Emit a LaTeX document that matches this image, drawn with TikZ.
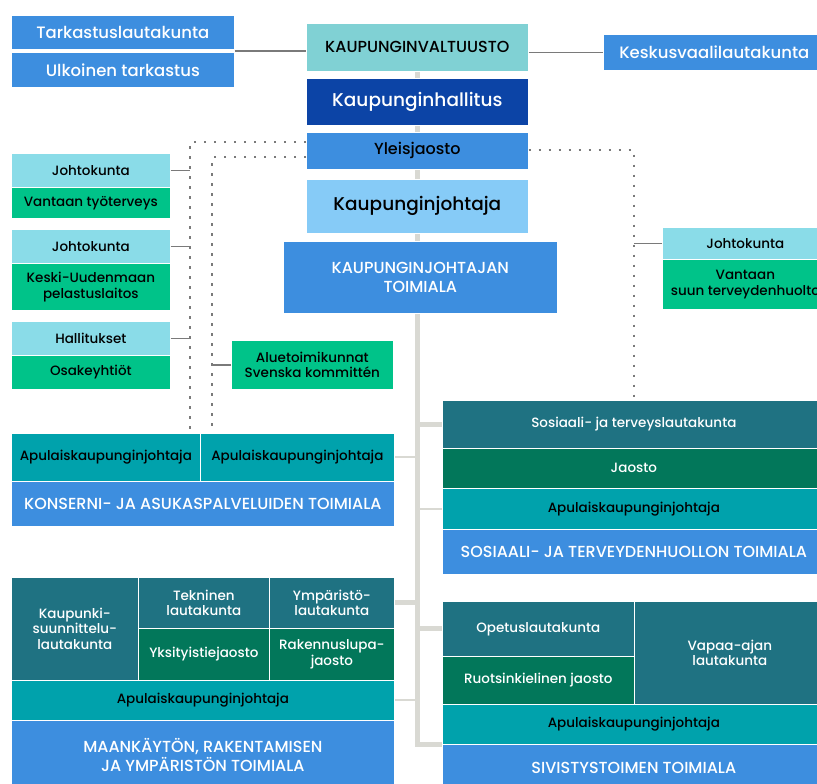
\documentclass[tikz,border=0pt]{standalone}
\usepackage{fontspec}
\setmainfont{Poppins}[UprightFont={* Medium}]
\usetikzlibrary{backgrounds}

\definecolor{vblue}{HTML}{3D8EDF}
\definecolor{vnavy}{HTML}{0C44A6}
\definecolor{vsky}{HTML}{86CBF7}
\definecolor{vmint}{HTML}{80D1D4}
\definecolor{vcyan}{HTML}{8ADCE8}
\definecolor{vgreen}{HTML}{00C389}
\definecolor{vpetrol}{HTML}{1F7282}
\definecolor{vforest}{HTML}{02775A}
\definecolor{vteal}{HTML}{00A2AC}
\definecolor{vspine}{HTML}{D9D9D3}
\definecolor{vline}{HTML}{7A7A7A}

\tikzset{
  cell/.style={anchor=north west, inner sep=0pt, align=center, draw=white, line width=0.7pt},
  sz/.style 2 args={minimum width=#1pt, minimum height=#2pt},
  fbig/.style={font=\fontsize{16.5}{20}\selectfont},
  fhuge/.style={font=\fontsize{18.5}{22}\selectfont},
  fmid/.style={font=\fontsize{16}{19}\selectfont},
  fcap/.style={font=\fontsize{16}{19}\selectfont},
  fsml/.style={font=\fontsize{13.5}{15.5}\selectfont},
  blueb/.style={cell, fill=vblue, text=white},
  navyb/.style={cell, fill=vnavy, text=white},
  skyb/.style={cell, fill=vsky, text=black},
  mintb/.style={cell, fill=vmint, text=black},
  cyanb/.style={cell, fill=vcyan, text=black},
  greenb/.style={cell, fill=vgreen, text=black},
  petrolb/.style={cell, fill=vpetrol, text=white},
  forestb/.style={cell, fill=vforest, text=white},
  tealb/.style={cell, fill=vteal, text=black},
  spine/.style={draw=vspine, line width=5pt},
  thinspine/.style={draw=vspine, line width=2pt},
  link/.style={draw=vline, line width=1.6pt},
  dots/.style={draw=vline, line width=1.5pt, dash pattern=on 2.5pt off 7.5pt}
}

\begin{document}
\begin{tikzpicture}[x=1pt,y=-1pt]
\useasboundingbox (0,0) rectangle (817,784);
\clip (0,0) rectangle (817,784);

% top of the chart
\node[blueb, fbig, sz={223}{34}] (tarkastus) at (11,15) {Tarkastuslautakunta};
\node[blueb, fbig, sz={223}{35}] (ulkoinen) at (11,52) {Ulkoinen tarkastus};
\node[mintb, fcap, sz={222}{48}] (valtuusto) at (306,23) {KAUPUNGINVALTUUSTO};
\node[blueb, fbig, sz={222}{36}] (keskus) at (603,34) {Keskusvaalilautakunta};
\node[navyb, fhuge, sz={222}{47}] (hallitus) at (306,78) {Kaupunginhallitus};
\node[blueb, fmid, text=black, sz={222}{37}] (yleis) at (306,132) {Yleisjaosto};
\node[skyb, fhuge, sz={222}{54}] (johtaja) at (306,179) {Kaupunginjohtaja};
\node[blueb, fcap, sz={274}{72}] (kjtoimiala) at (283,241) {KAUPUNGINJOHTAJAN\\TOIMIALA};

% left side
\node[cyanb, fsml, sz={159}{34}] (jk1) at (11,153) {Johtokunta};
\node[greenb, fsml, sz={159}{31}] (tyoterveys) at (11,187) {Vantaan työterveys};
\node[cyanb, fsml, sz={159}{34}] (jk2) at (11,229) {Johtokunta};
\node[greenb, fsml, sz={159}{47}] (pelastus) at (11,263) {Keski-Uudenmaan\\pelastuslaitos};
\node[cyanb, fsml, sz={159}{34}] (hallitukset) at (11,321) {Hallitukset};
\node[greenb, fsml, sz={159}{34}] (oy) at (11,355) {Osakeyhtiöt};
\node[greenb, fsml, sz={162}{49}] (alue) at (231,340) {Aluetoimikunnat\\Svenska kommittén};

% right side
\node[cyanb, fsml, sz={166}{32}] (jk3) at (662,227) {Johtokunta};
\node[greenb, fsml, sz={166}{50}] (suun) at (662,259) {Vantaan\\suun terveydenhuolto};

% konserni
\node[tealb, fsml, sz={189}{48}] (apu1) at (11,433) {Apulaiskaupunginjohtaja};
\node[tealb, fsml, sz={194}{48}] (apu2) at (200,433) {Apulaiskaupunginjohtaja};
\node[blueb, fcap, sz={383}{45}] (konserni) at (11,481) {KONSERNI- JA ASUKASPALVELUIDEN TOIMIALA};

% sote
\node[petrolb, fsml, sz={383}{48}] (sotelk) at (442,400) {Sosiaali- ja terveyslautakunta};
\node[forestb, fsml, sz={383}{40}] (jaosto) at (442,448) {Jaosto};
\node[tealb, fsml, sz={383}{41}] (apu3) at (442,488) {Apulaiskaupunginjohtaja};
\node[blueb, fcap, sz={383}{45}] (sote) at (442,529) {SOSIAALI- JA TERVEYDENHUOLLON TOIMIALA};

% maankaytto
\node[petrolb, fsml, sz={127}{103}] (kslk) at (11,577) {Kaupunki-\\suunnittelu-\\lautakunta};
\node[petrolb, fsml, sz={131}{51}] (tekn) at (138,577) {Tekninen\\lautakunta};
\node[petrolb, fsml, sz={125}{51}] (ymp) at (269,577) {Ympäristö-\\lautakunta};
\node[forestb, fsml, sz={131}{52}] (yks) at (138,628) {Yksityistiejaosto};
\node[forestb, fsml, sz={125}{52}] (rak) at (269,628) {Rakennuslupa-\\jaosto};
\node[tealb, fsml, sz={383}{40}] (apu4) at (11,680) {Apulaiskaupunginjohtaja};
\node[blueb, fcap, sz={383}{70}] (make) at (11,720) {MAANKÄYTÖN, RAKENTAMISEN\\JA YMPÄRISTÖN TOIMIALA};

% sivistys
\node[petrolb, fsml, sz={192}{55}] (opetus) at (442,601) {Opetuslautakunta};
\node[forestb, fsml, sz={192}{48}] (ruotsi) at (442,656) {Ruotsinkielinen jaosto};
\node[petrolb, fsml, sz={191}{103}] (vapaa) at (634,601) {Vapaa-ajan\\lautakunta};
\node[tealb, fsml, sz={383}{40}] (apu5) at (442,704) {Apulaiskaupunginjohtaja};
\node[blueb, fcap, sz={383}{48}] (sivistys) at (442,744) {SIVISTYSTOIMEN TOIMIALA};

\coordinate (dotA) at (190,433);
\coordinate (dotB) at (212,433);
\coordinate (dotC) at (634,400);

% grey spine behind the boxes
\begin{pgfonlayer}{background}
\draw[spine] (valtuusto.south) |- (apu5.south west);
\draw[spine] (sotelk.west) -- (sotelk.west -| valtuusto.south);
\draw[spine] (opetus.west) -- (opetus.west -| valtuusto.south);
\draw[spine] (ymp.east) -- (ymp.east -| valtuusto.south);
\draw[thinspine] (apu3.west) -- (apu3.west -| valtuusto.south);
\draw[thinspine] (apu2.east) -- (apu2.east -| valtuusto.south);
\draw[thinspine] (apu4.east) -- (apu4.east -| valtuusto.south);
\end{pgfonlayer}

\draw[link] ([yshift=-1.5pt]tarkastus.south east) -- ([yshift=-1.5pt]tarkastus.south east -| valtuusto.west);
\draw[link] (valtuusto.east |- keskus.west) -- (keskus.west);

\draw[dots] ([yshift=-10pt]yleis.north west) -| (dotA);
\draw[dots] ([yshift=-25pt]yleis.north west) -| (dotB);
\draw[dots] ([yshift=-18pt]yleis.north east) -| (dotC);
\draw[link] (jk1.east) -- (jk1.east -| dotA);
\draw[link] (jk2.east) -- (jk2.east -| dotA);
\draw[link] (hallitukset.east) -- (hallitukset.east -| dotA);
\draw[link] (alue.west) -- (alue.west -| dotB);
\draw[link] (jk3.west) -- (jk3.west -| dotC);

\end{tikzpicture}
\end{document}
